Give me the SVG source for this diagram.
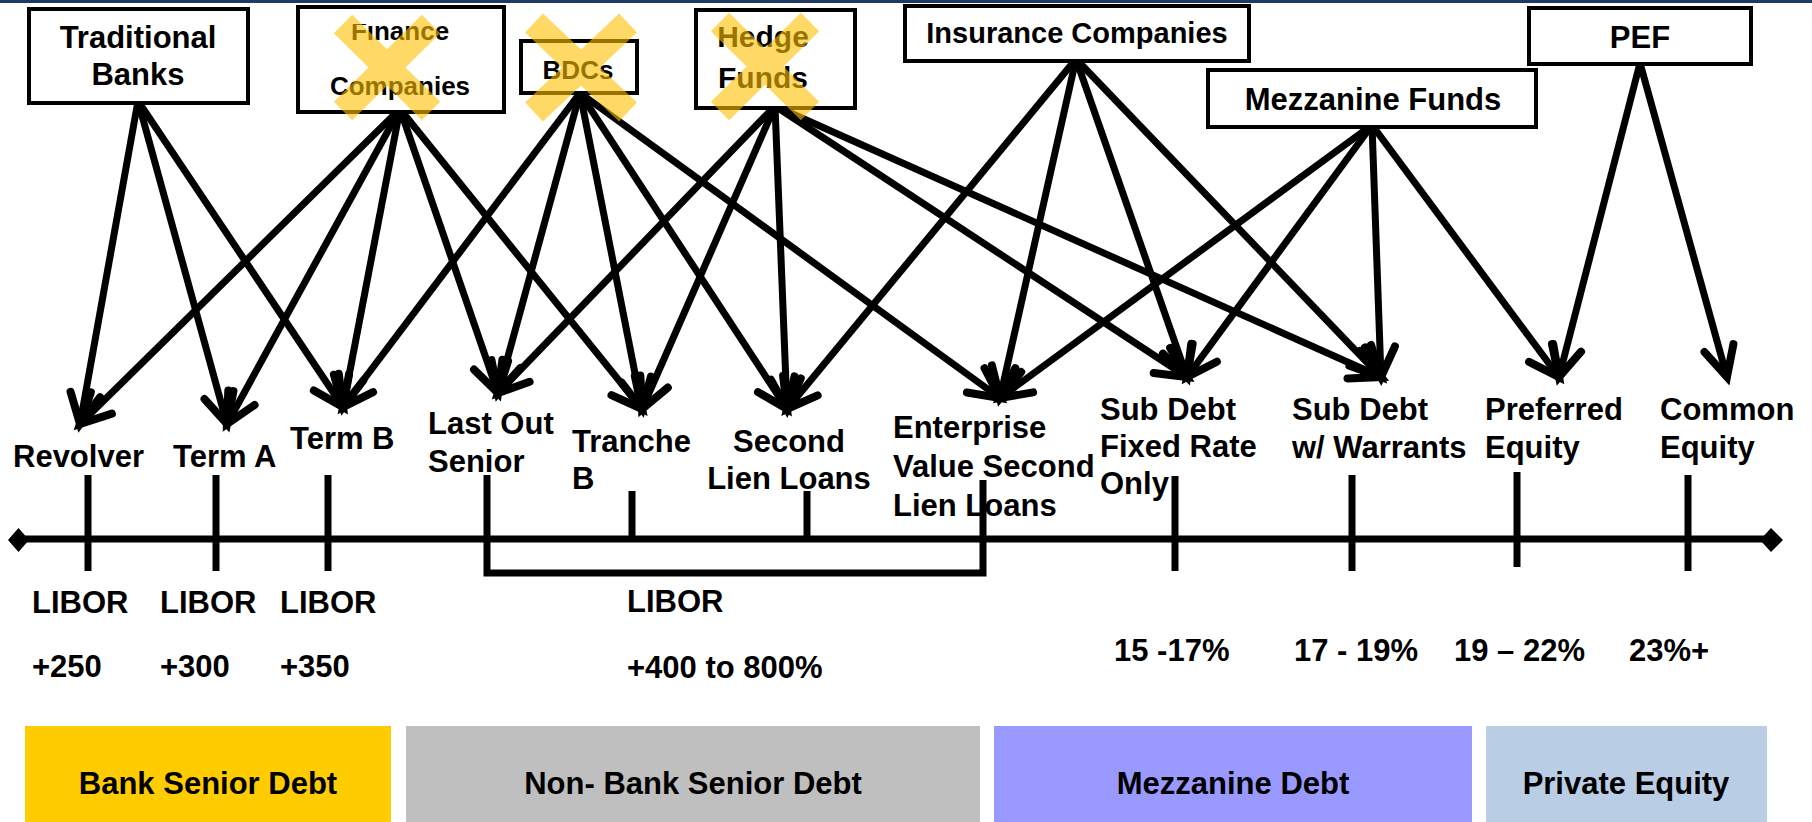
<svg xmlns="http://www.w3.org/2000/svg" width="1812" height="822" viewBox="0 0 1812 822">
<style>
.t{font-family:"Liberation Sans",Arial,sans-serif;font-weight:bold;font-size:31px;fill:#000}
.m{text-anchor:middle}
.box{fill:#fff;stroke:#000;stroke-width:4}
#connectors line{stroke:#000;stroke-width:7;marker-end:url(#ah)}
.tick{stroke:#000;stroke-width:7;fill:none}
.xm line{stroke:#FFC000;stroke-width:26}
</style>
<defs>
<marker id="ah" markerUnits="userSpaceOnUse" viewBox="-40 -30 60 60" markerWidth="60" markerHeight="60" refX="0" refY="0" orient="auto" overflow="visible">
<path d="M-30,-15 L0,0 L-30,15" fill="none" stroke="#000" stroke-width="8" stroke-linecap="round" stroke-linejoin="miter"/>
</marker>
<clipPath id="finclip"><rect x="290" y="24" width="220" height="100"/></clipPath>
</defs>
<rect x="0" y="0" width="1812" height="822" fill="#fff"/>
<rect x="0" y="0" width="1812" height="3" fill="#1F3864"/>

<g id="connectors">
<line x1="138" y1="101" x2="80" y2="424"/>
<line x1="138" y1="101" x2="227" y2="424"/>
<line x1="138" y1="101" x2="343" y2="407"/>
<line x1="400" y1="109" x2="80" y2="424"/>
<line x1="400" y1="109" x2="227" y2="424"/>
<line x1="400" y1="109" x2="343" y2="407"/>
<line x1="400" y1="109" x2="498" y2="393"/>
<line x1="400" y1="109" x2="642" y2="409"/>
<line x1="580" y1="93" x2="343" y2="407"/>
<line x1="580" y1="93" x2="498" y2="393"/>
<line x1="580" y1="93" x2="642" y2="409"/>
<line x1="580" y1="93" x2="787" y2="409"/>
<line x1="580" y1="93" x2="1000" y2="398"/>
<line x1="775" y1="106" x2="498" y2="393"/>
<line x1="775" y1="106" x2="642" y2="409"/>
<line x1="775" y1="106" x2="787" y2="409"/>
<line x1="775" y1="106" x2="1187" y2="377"/>
<line x1="775" y1="106" x2="1381" y2="377"/>
<line x1="1076" y1="59" x2="787" y2="409"/>
<line x1="1076" y1="59" x2="1000" y2="398"/>
<line x1="1076" y1="59" x2="1187" y2="377"/>
<line x1="1076" y1="59" x2="1381" y2="377"/>
<line x1="1372" y1="125" x2="1000" y2="398"/>
<line x1="1372" y1="125" x2="1187" y2="377"/>
<line x1="1372" y1="125" x2="1381" y2="377"/>
<line x1="1372" y1="125" x2="1559" y2="377"/>
<line x1="1640" y1="63" x2="1559" y2="377"/>
<line x1="1640" y1="63" x2="1727" y2="377"/>
</g>

<g id="traditional-banks">
<rect class="box" x="29" y="9" width="219" height="94"/>
<text class="t m" x="138" y="48">Traditional</text>
<text class="t m" x="138" y="85">Banks</text>
</g>
<g id="finance-companies">
<rect class="box" x="298" y="7" width="206" height="105"/>
<text class="t m" x="400" y="40" clip-path="url(#finclip)" style="font-size:26px">Finance</text>
<text class="t m" x="400" y="95" style="font-size:26px">Companies</text>
</g>
<g id="bdcs">
<rect class="box" x="521" y="41" width="116" height="52"/>
<text class="t m" x="578" y="79" style="font-size:26px">BDCs</text>
</g>
<g id="hedge-funds">
<rect class="box" x="696" y="10" width="159" height="98"/>
<text class="t m" x="763" y="47" style="font-size:30px">Hedge</text>
<text class="t m" x="763" y="88" style="font-size:30px">Funds</text>
</g>
<g id="insurance-companies">
<rect class="box" x="905" y="6" width="344" height="55"/>
<text class="t m" x="1077" y="43" style="font-size:29px">Insurance Companies</text>
</g>
<g id="mezzanine-funds">
<rect class="box" x="1208" y="70" width="328" height="57"/>
<text class="t m" x="1373" y="110">Mezzanine Funds</text>
</g>
<g id="pef">
<rect class="box" x="1529" y="8" width="222" height="56"/>
<text class="t m" x="1640" y="48">PEF</text>
</g>

<g id="timeline">
<line x1="18" y1="539" x2="1771" y2="539" stroke="#000" stroke-width="7"/>
<polygon points="8,540 18.5,528 29,540 18.5,552" fill="#000"/>
<polygon points="1760,540 1771,528 1783,540 1771,552" fill="#000"/>
<line class="tick" x1="88" y1="475" x2="88" y2="571"/>
<line class="tick" x1="216" y1="475" x2="216" y2="571"/>
<line class="tick" x1="328" y1="475" x2="328" y2="571"/>
<polyline class="tick" points="487,475 487,573 983,573 983,480"/>
<line class="tick" x1="632" y1="491" x2="632" y2="539"/>
<line class="tick" x1="807" y1="491" x2="807" y2="539"/>
<line class="tick" x1="1175" y1="476" x2="1175" y2="571"/>
<line class="tick" x1="1352" y1="475" x2="1352" y2="571"/>
<line class="tick" x1="1517" y1="472" x2="1517" y2="567"/>
<line class="tick" x1="1688" y1="475" x2="1688" y2="571"/>
</g>

<g id="revolver"><text class="t" x="13" y="467">Revolver</text></g>
<g id="term-a"><text class="t" x="173" y="467">Term A</text></g>
<g id="term-b"><text class="t" x="290" y="449">Term B</text></g>
<g id="last-out-senior"><text class="t" x="428" y="434">Last Out</text><text class="t" x="428" y="472">Senior</text></g>
<g id="tranche-b"><text class="t" x="572" y="452">Tranche</text><text class="t" x="572" y="489">B</text></g>
<g id="second-lien"><text class="t m" x="789" y="452">Second</text><text class="t m" x="789" y="489">Lien Loans</text></g>
<g id="enterprise-value"><text class="t" x="893" y="438">Enterprise</text><text class="t" x="893" y="477">Value Second</text><text class="t" x="893" y="516">Lien Loans</text></g>
<g id="sub-debt-fixed"><text class="t" x="1100" y="420">Sub Debt</text><text class="t" x="1100" y="457">Fixed Rate</text><text class="t" x="1100" y="494">Only</text></g>
<g id="sub-debt-warrants"><text class="t" x="1292" y="420">Sub Debt</text><text class="t" x="1292" y="458">w/ Warrants</text></g>
<g id="preferred-equity"><text class="t" x="1485" y="420">Preferred</text><text class="t" x="1485" y="458">Equity</text></g>
<g id="common-equity"><text class="t" x="1660" y="420">Common</text><text class="t" x="1660" y="458">Equity</text></g>

<g id="rates">
<text class="t" x="32" y="613">LIBOR</text><text class="t" x="32" y="677">+250</text>
<text class="t" x="160" y="613">LIBOR</text><text class="t" x="160" y="677">+300</text>
<text class="t" x="280" y="613">LIBOR</text><text class="t" x="280" y="677">+350</text>
<text class="t" x="627" y="612">LIBOR</text><text class="t" x="627" y="678">+400 to 800%</text>
<text class="t" x="1114" y="661">15 -17%</text>
<text class="t" x="1294" y="661">17 - 19%</text>
<text class="t" x="1454" y="661">19 – 22%</text>
<text class="t" x="1629" y="661">23%+</text>
</g>

<g id="band-bank"><rect x="25" y="726" width="366" height="96" fill="#FFCC00"/><text class="t m" x="208" y="794">Bank Senior Debt</text></g>
<g id="band-nonbank"><rect x="406" y="726" width="574" height="96" fill="#BFBFBF"/><text class="t m" x="693" y="794">Non- Bank Senior Debt</text></g>
<g id="band-mezz"><rect x="994" y="726" width="478" height="96" fill="#9999FF"/><text class="t m" x="1233" y="794">Mezzanine Debt</text></g>
<g id="band-pe"><rect x="1486" y="726" width="281" height="96" fill="#B9CDE5"/><text class="t m" x="1626" y="794">Private Equity</text></g>

<g class="xm" opacity="0.6">
<line x1="343" y1="24" x2="431" y2="111"/><line x1="431" y1="24" x2="343" y2="111"/>
</g>
<g class="xm" opacity="0.6">
<line x1="534" y1="23" x2="628" y2="112"/><line x1="628" y1="23" x2="534" y2="112"/>
</g>
<g class="xm" opacity="0.6">
<line x1="720" y1="22" x2="810" y2="111"/><line x1="810" y1="22" x2="720" y2="111"/>
</g>
</svg>
